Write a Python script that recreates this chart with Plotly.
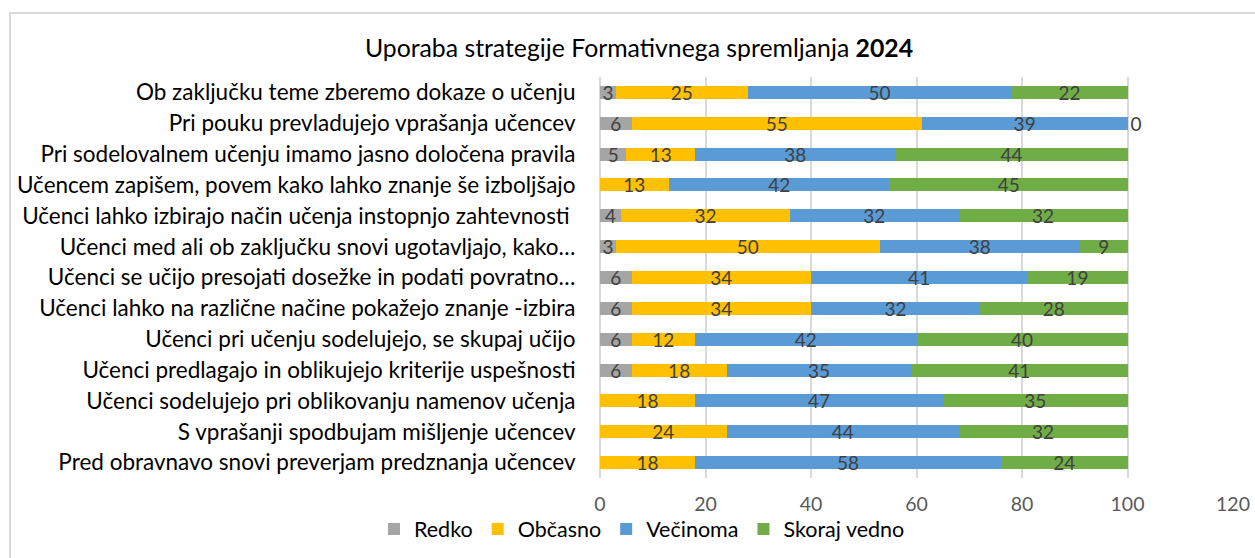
import plotly.graph_objects as go

categories = [
    "Ob zaključku teme zberemo dokaze o učenju",
    "Pri pouku prevladujejo vprašanja učencev",
    "Pri sodelovalnem učenju imamo jasno določena pravila",
    "Učencem zapišem, povem kako lahko znanje še izboljšajo",
    "Učenci lahko izbirajo način učenja instopnjo zahtevnosti ",
    "Učenci med ali ob zaključku snovi ugotavljajo, kako…",
    "Učenci se učijo presojati dosežke in podati povratno…",
    "Učenci lahko na različne načine pokažejo znanje -izbira",
    "Učenci pri učenju sodelujejo, se skupaj učijo",
    "Učenci predlagajo in oblikujejo kriterije uspešnosti",
    "Učenci sodelujejo pri oblikovanju namenov učenja",
    "S vprašanji spodbujam mišljenje učencev",
    "Pred obravnavo snovi preverjam predznanja učencev",
]
redko = [3, 6, 5, None, 4, 3, 6, 6, 6, 6, None, None, None]
obcasno = [25, 55, 13, 13, 32, 50, 34, 34, 12, 18, 18, 24, 18]
vecinoma = [50, 39, 38, 42, 32, 38, 41, 32, 42, 35, 47, 44, 58]
skoraj_vedno = [22, 0, 44, 45, 32, 9, 19, 28, 40, 41, 35, 32, 24]

series = [
    ("Redko", redko, "#A5A5A5"),
    ("Občasno", obcasno, "#FFC000"),
    ("Večinoma", vecinoma, "#5B9BD5"),
    ("Skoraj vedno", skoraj_vedno, "#70AD47"),
]

FONT = "Lato"
W, H = 1255, 558

fig = go.Figure()
for name, vals, color in series:
    fig.add_trace(go.Bar(
        name=name, y=categories, x=vals, orientation="h",
        marker=dict(color=color, line=dict(width=0)),
        text=[("" if v is None else str(v)) for v in vals],
        textposition=["outside" if v == 0 else "inside" for v in vals],
        textangle=0,
        insidetextanchor="middle",
        constraintext="none",
        textfont=dict(family=FONT, size=19, color="#404040"),
        outsidetextfont=dict(family=FONT, size=19, color="#404040"),
        cliponaxis=False,
        hoverinfo="x+y+name",
    ))

left, right, top, bottom = 600, 1233, 77, 478
fig.update_layout(
    barmode="stack",
    bargap=0.58,
    width=W, height=H,
    margin=dict(l=left, r=W - right, t=top, b=H - bottom, autoexpand=False),
    paper_bgcolor="white", plot_bgcolor="white",
    font=dict(family=FONT, size=22, color="#000000"),
    title=dict(
        text="Uporaba strategije Formativnega spremljanja <b>2024</b>",
        x=639 / W, xref="container", xanchor="center",
        y=1 - 48 / H, yref="container", yanchor="middle",
        font=dict(family=FONT, size=24.8, color="#000000"),
    ),
    legend=dict(
        orientation="h", xref="container", yref="container",
        x=642 / W, xanchor="center", y=1 - 529 / H, yanchor="middle",
        font=dict(family=FONT, size=21.5, color="#000000"),
        bgcolor="rgba(0,0,0,0)",
        itemwidth=30, traceorder="normal", tracegroupgap=0,
    ),
    shapes=[dict(
        type="rect", xref="paper", yref="paper",
        x0=(10 - 600) / 633, x1=1.2, y0=-0.5, y1=(478 - 13) / 401,
        line=dict(color="#D9D9D9", width=2), fillcolor="rgba(0,0,0,0)", layer="below",
    )],
)
fig.update_xaxes(
    range=[0, 120], dtick=20, tick0=0, automargin=False,
    showgrid=True, gridcolor="#D9D9D9", gridwidth=1.5,
    zeroline=True, zerolinecolor="#D9D9D9", zerolinewidth=1.5,
    showline=False, ticks="outside", ticklen=9, tickcolor="rgba(0,0,0,0)",
    tickfont=dict(family=FONT, size=19.5, color="#595959"),
)
fig.update_yaxes(
    autorange="reversed", showgrid=False, showline=False, automargin=False,
    ticks="outside", ticklen=19, tickcolor="rgba(0,0,0,0)",
    tickfont=dict(family=FONT, size=22.5, color="#000000"),
)

fig.write_html(
    "out.html",
    config={"displayModeBar": False},
    post_script="document.body.style.margin='0px';"
                "document.documentElement.style.overflow='hidden';"
                "document.body.style.overflow='hidden';",
)
